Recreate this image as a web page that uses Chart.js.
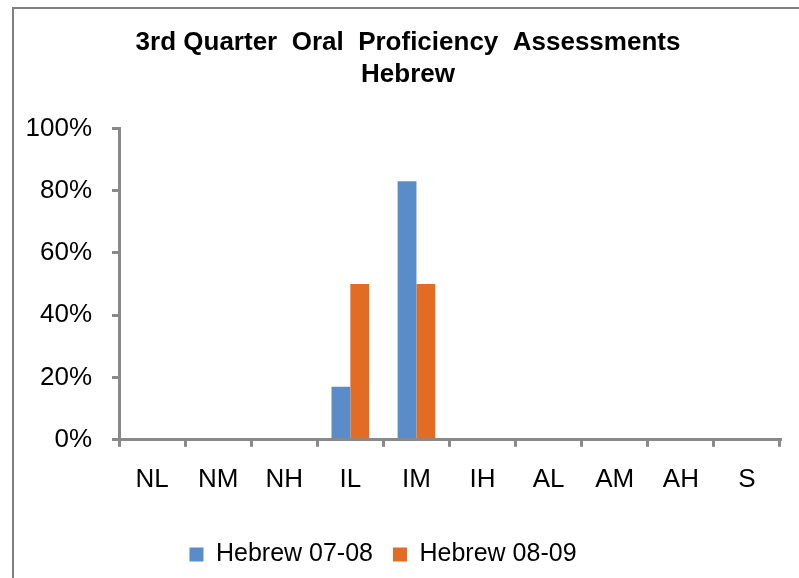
<!DOCTYPE html>
<html>
<head>
<meta charset="utf-8">
<script src="https://cdn.jsdelivr.net/npm/chart.js@4"></script>
<style>
  body { margin: 0; background: #fff; }
  #wrap { position: relative; width: 799px; height: 578px; }
  #frame { position: absolute; left: 12px; top: 7px; width: 800px; height: 600px; border: 2px solid #808080; box-sizing: border-box; }
  canvas { position: absolute; left: 0; top: 0; }
</style>
</head>
<body>
<div id="wrap">
  <div id="frame"></div>
  <canvas id="chart" width="799" height="578"></canvas>
</div>
<script>
// proficiency levels
const levels = ["NL", "NM", "NH", "IL", "IM", "IH", "AL", "AM", "AH", "S"];
// share of students per level (%)
const hebrew0708 = [0, 0, 0, 17, 83, 0, 0, 0, 0, 0];
const hebrew0809 = [0, 0, 0, 50, 50, 0, 0, 0, 0, 0];
const yTicks = [0, 20, 40, 60, 80, 100];

const axisGrey = "#898989";
const font = "'Liberation Sans', Arial, sans-serif";

// title sits a bit right of centre and the legend a bit left, like the original
const nudge = {
    id: "nudge",
    afterLayout(chart) {
        if (chart.titleBlock) chart.titleBlock.left += 24;
        if (chart.legend) {
            chart.legend.right -= 26;
            chart.legend.top += 10;
            chart.legend.bottom += 10;
        }
    }
};

const ctx = document.getElementById("chart").getContext("2d");

const chart = new Chart(ctx, {
    type: "bar",
    data: {
        labels: levels,
        datasets: [
            { label: "Hebrew 07-08", data: hebrew0708, backgroundColor: "#5A8CC9" },
            { label: "Hebrew 08-09", data: hebrew0809, backgroundColor: "#E36C25" }
        ]
    },
    plugins: [nudge],
    options: {
        responsive: false,
        animation: false,
        layout: { padding: { left: 12, right: 19, top: 27, bottom: 11 } },
        datasets: { bar: { categoryPercentage: 0.57, barPercentage: 1 } },
        plugins: {
            title: {
                display: true,
                text: ["3rd Quarter  Oral  Proficiency  Assessments", "Hebrew"],
                color: "#000",
                font: { family: font, size: 26, weight: "bold", lineHeight: 1.22 },
                padding: { top: 0, bottom: 38 }
            },
            legend: {
                position: "bottom",
                labels: {
                    color: "#000",
                    font: { family: font, size: 25 },
                    boxWidth: 14,
                    boxHeight: 14,
                    padding: 20
                }
            },
            tooltip: { enabled: false }
        },
        scales: {
            x: {
                grid: { drawOnChartArea: false, color: axisGrey, lineWidth: 3, tickLength: 7 },
                border: { color: axisGrey, width: 3 },
                ticks: { color: "#000", font: { family: font, size: 26 }, padding: 17 }
            },
            y: {
                min: 0,
                max: 100,
                afterFit: (scale) => { scale.width = 107; },
                afterBuildTicks: (scale) => { scale.ticks = yTicks.map(v => ({ value: v })); },
                grid: { drawOnChartArea: false, color: axisGrey, lineWidth: 3, tickLength: 7 },
                border: { color: axisGrey, width: 3 },
                ticks: {
                    color: "#000",
                    font: { family: font, size: 26 },
                    padding: 20,
                    callback: (v) => v + "%"
                }
            }
        }
    }
});
</script>
</body>
</html>
